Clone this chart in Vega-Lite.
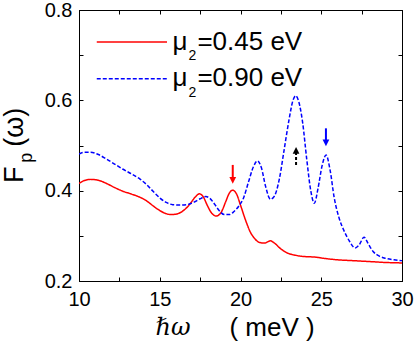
{
  "$schema": "https://vega.github.io/schema/vega-lite/v6.json",
  "width": 323,
  "height": 271,
  "autosize": {"type": "none"},
  "padding": {"left": 79, "top": 10, "right": 13, "bottom": 65},
  "background": "white",
  "config": {
    "view": {"stroke": "black", "strokeWidth": 1},
    "axis": {
      "grid": false,
      "domainColor": "black",
      "tickColor": "black",
      "labelColor": "black",
      "titleColor": "black",
      "labelFont": "Liberation Sans",
      "titleFont": "Liberation Sans",
      "labelFontSize": 20,
      "titleFontSize": 26,
      "titleFontWeight": "normal",
      "tickSize": -4,
      "labelOverlap": false,
      "labelFlush": false
    }
  },
  "datasets": {
    "curves": [
      {"x": 10.0, "y": 0.416, "s": "0.45"}, {"x": 10.3, "y": 0.422, "s": "0.45"}, {"x": 10.7, "y": 0.425, "s": "0.45"},
      {"x": 11.2, "y": 0.423, "s": "0.45"}, {"x": 11.7, "y": 0.416, "s": "0.45"}, {"x": 12.2, "y": 0.407, "s": "0.45"},
      {"x": 12.7, "y": 0.399, "s": "0.45"}, {"x": 13.2, "y": 0.393, "s": "0.45"}, {"x": 13.8, "y": 0.385, "s": "0.45"},
      {"x": 14.2, "y": 0.377, "s": "0.45"}, {"x": 14.6, "y": 0.366, "s": "0.45"}, {"x": 15.0, "y": 0.356, "s": "0.45"},
      {"x": 15.4, "y": 0.349, "s": "0.45"}, {"x": 15.7, "y": 0.347, "s": "0.45"}, {"x": 16.0, "y": 0.348, "s": "0.45"},
      {"x": 16.3, "y": 0.352, "s": "0.45"}, {"x": 16.6, "y": 0.36, "s": "0.45"}, {"x": 16.9, "y": 0.372, "s": "0.45"},
      {"x": 17.2, "y": 0.386, "s": "0.45"}, {"x": 17.45, "y": 0.393, "s": "0.45"}, {"x": 17.7, "y": 0.386, "s": "0.45"},
      {"x": 17.95, "y": 0.367, "s": "0.45"}, {"x": 18.2, "y": 0.351, "s": "0.45"}, {"x": 18.5, "y": 0.344, "s": "0.45"},
      {"x": 18.8, "y": 0.352, "s": "0.45"}, {"x": 19.1, "y": 0.377, "s": "0.45"}, {"x": 19.3, "y": 0.394, "s": "0.45"},
      {"x": 19.52, "y": 0.401, "s": "0.45"}, {"x": 19.75, "y": 0.393, "s": "0.45"}, {"x": 20.0, "y": 0.368, "s": "0.45"},
      {"x": 20.3, "y": 0.336, "s": "0.45"}, {"x": 20.6, "y": 0.309, "s": "0.45"}, {"x": 20.9, "y": 0.293, "s": "0.45"},
      {"x": 21.2, "y": 0.285, "s": "0.45"}, {"x": 21.5, "y": 0.284, "s": "0.45"}, {"x": 21.85, "y": 0.289, "s": "0.45"},
      {"x": 22.1, "y": 0.284, "s": "0.45"}, {"x": 22.5, "y": 0.271, "s": "0.45"}, {"x": 22.9, "y": 0.262, "s": "0.45"},
      {"x": 23.4, "y": 0.257, "s": "0.45"}, {"x": 24.0, "y": 0.254, "s": "0.45"}, {"x": 24.6, "y": 0.253, "s": "0.45"},
      {"x": 25.2, "y": 0.25, "s": "0.45"}, {"x": 26.0, "y": 0.247, "s": "0.45"}, {"x": 27.0, "y": 0.245, "s": "0.45"},
      {"x": 28.0, "y": 0.243, "s": "0.45"}, {"x": 29.0, "y": 0.241, "s": "0.45"}, {"x": 30.0, "y": 0.24, "s": "0.45"},

      {"x": 10.0, "y": 0.481, "s": "0.90"}, {"x": 10.3, "y": 0.485, "s": "0.90"}, {"x": 10.7, "y": 0.485, "s": "0.90"},
      {"x": 11.2, "y": 0.48, "s": "0.90"}, {"x": 11.7, "y": 0.47, "s": "0.90"}, {"x": 12.2, "y": 0.459, "s": "0.90"},
      {"x": 12.7, "y": 0.448, "s": "0.90"}, {"x": 13.2, "y": 0.438, "s": "0.90"}, {"x": 13.8, "y": 0.425, "s": "0.90"},
      {"x": 14.2, "y": 0.413, "s": "0.90"}, {"x": 14.6, "y": 0.398, "s": "0.90"}, {"x": 15.0, "y": 0.384, "s": "0.90"},
      {"x": 15.4, "y": 0.374, "s": "0.90"}, {"x": 15.8, "y": 0.369, "s": "0.90"}, {"x": 16.3, "y": 0.368, "s": "0.90"},
      {"x": 16.8, "y": 0.37, "s": "0.90"}, {"x": 17.2, "y": 0.376, "s": "0.90"}, {"x": 17.5, "y": 0.382, "s": "0.90"},
      {"x": 17.85, "y": 0.387, "s": "0.90"}, {"x": 18.1, "y": 0.383, "s": "0.90"}, {"x": 18.4, "y": 0.37, "s": "0.90"},
      {"x": 18.7, "y": 0.355, "s": "0.90"}, {"x": 19.0, "y": 0.347, "s": "0.90"}, {"x": 19.3, "y": 0.347, "s": "0.90"},
      {"x": 19.6, "y": 0.354, "s": "0.90"}, {"x": 19.9, "y": 0.366, "s": "0.90"}, {"x": 20.2, "y": 0.385, "s": "0.90"},
      {"x": 20.5, "y": 0.42, "s": "0.90"}, {"x": 20.8, "y": 0.453, "s": "0.90"}, {"x": 21.05, "y": 0.466, "s": "0.90"},
      {"x": 21.3, "y": 0.45, "s": "0.90"}, {"x": 21.55, "y": 0.41, "s": "0.90"}, {"x": 21.85, "y": 0.381, "s": "0.90"},
      {"x": 22.1, "y": 0.388, "s": "0.90"}, {"x": 22.4, "y": 0.425, "s": "0.90"}, {"x": 22.7, "y": 0.49, "s": "0.90"},
      {"x": 23.0, "y": 0.556, "s": "0.90"}, {"x": 23.25, "y": 0.6, "s": "0.90"}, {"x": 23.42, "y": 0.61, "s": "0.90"},
      {"x": 23.6, "y": 0.598, "s": "0.90"}, {"x": 23.85, "y": 0.55, "s": "0.90"}, {"x": 24.1, "y": 0.47, "s": "0.90"},
      {"x": 24.35, "y": 0.4, "s": "0.90"}, {"x": 24.57, "y": 0.372, "s": "0.90"}, {"x": 24.8, "y": 0.405, "s": "0.90"},
      {"x": 25.05, "y": 0.455, "s": "0.90"}, {"x": 25.3, "y": 0.479, "s": "0.90"}, {"x": 25.55, "y": 0.445, "s": "0.90"},
      {"x": 25.8, "y": 0.385, "s": "0.90"}, {"x": 26.1, "y": 0.34, "s": "0.90"}, {"x": 26.4, "y": 0.312, "s": "0.90"},
      {"x": 26.75, "y": 0.288, "s": "0.90"}, {"x": 27.1, "y": 0.273, "s": "0.90"}, {"x": 27.35, "y": 0.28, "s": "0.90"},
      {"x": 27.65, "y": 0.297, "s": "0.90"}, {"x": 27.9, "y": 0.283, "s": "0.90"}, {"x": 28.2, "y": 0.266, "s": "0.90"},
      {"x": 28.6, "y": 0.255, "s": "0.90"}, {"x": 29.0, "y": 0.25, "s": "0.90"}, {"x": 29.5, "y": 0.247, "s": "0.90"},
      {"x": 30.0, "y": 0.245, "s": "0.90"}
    ],
    "shafts": [
      {"x": 19.52, "y": 0.457, "y2": 0.425, "s": "0.45"},
      {"x": 25.29, "y": 0.538, "y2": 0.507, "s": "0.90"}
    ],
    "dashedShafts": [
      {"x": 23.44, "y": 0.457, "y2": 0.488, "s": "marker"}
    ],
    "heads": [
      {"x": 19.52, "y": 0.4226, "dir": "down", "s": "0.45"},
      {"x": 23.44, "y": 0.4894, "dir": "up", "s": "marker"},
      {"x": 25.29, "y": 0.5056, "dir": "down", "s": "0.90"}
    ],
    "legendLines": [
      {"x": 11.1, "x2": 15.45, "y": 0.729, "s": "0.45"},
      {"x": 11.1, "x2": 15.45, "y": 0.648, "s": "0.90"}
    ],
    "legendBig": [
      {"x": 15.79, "y": 0.711, "t": "μ"},
      {"x": 17.33, "y": 0.711, "t": "=0.45 eV"},
      {"x": 15.79, "y": 0.631, "t": "μ"},
      {"x": 17.33, "y": 0.631, "t": "=0.90 eV"}
    ],
    "legendSub": [
      {"x": 16.78, "y": 0.689, "t": "2"},
      {"x": 16.78, "y": 0.608, "t": "2"}
    ],
    "ytitleBig": [
      {"x": 6.55, "y": 0.417, "t": "F"},
      {"x": 6.55, "y": 0.497, "t": "(ω)"}
    ],
    "ytitleSub": [
      {"x": 7.12, "y": 0.462, "t": "p"}
    ],
    "xlabel": [
      {"x": 15.82, "y": 0.08, "t": "ℏω"}
    ]
  },
  "resolve": {"axis": {"x": "independent", "y": "independent"}},
  "layer": [
    {
      "data": {"name": "curves"},
      "mark": {"type": "line", "interpolate": "monotone", "strokeWidth": 1.5, "clip": true},
      "encoding": {
        "x": {"field": "x", "type": "quantitative",
              "scale": {"domain": [10, 30], "nice": false, "zero": false},
              "axis": {"orient": "bottom", "values": [10, 12.5, 15, 17.5, 20, 22.5, 25, 27.5, 30],
                       "labelExpr": "datum.value % 5 === 0 ? format(datum.value, 'd') : ''",
                       "labelPadding": 12, "title": "( meV )",
                       "titleX": 192.5, "titleY": 54, "titleBaseline": "alphabetic", "titleAlign": "center"}},
        "y": {"field": "y", "type": "quantitative",
              "scale": {"domain": [0.2, 0.8], "nice": false, "zero": false},
              "axis": {"orient": "left", "values": [0.2, 0.3, 0.4, 0.5, 0.6, 0.7, 0.8],
                       "labelExpr": "round(datum.value * 10) % 2 === 0 ? format(datum.value, '.1f') : ''",
                       "labelPadding": 11, "title": null}},
        "color": {"field": "s", "type": "nominal", "legend": null,
                  "scale": {"domain": ["0.45", "0.90", "marker"], "range": ["#ff0000", "#0000ff", "#000000"]}},
        "strokeDash": {"field": "s", "type": "nominal", "legend": null,
                       "scale": {"domain": ["0.45", "0.90"], "range": [[1, 0], [4, 2]]}}
      }
    },
    {
      "data": {"name": "shafts"},
      "mark": {"type": "rule", "strokeWidth": 2},
      "encoding": {
        "x": {"field": "x", "type": "quantitative",
              "axis": {"orient": "top", "values": [10, 12.5, 15, 17.5, 20, 22.5, 25, 27.5, 30],
                       "labels": false, "title": null}},
        "y": {"field": "y", "type": "quantitative",
              "axis": {"orient": "right", "values": [0.2, 0.3, 0.4, 0.5, 0.6, 0.7, 0.8],
                       "labels": false, "title": null}},
        "y2": {"field": "y2"},
        "color": {"field": "s", "type": "nominal", "legend": null}
      }
    },
    {
      "data": {"name": "dashedShafts"},
      "mark": {"type": "rule", "strokeWidth": 2, "strokeDash": [3, 2]},
      "encoding": {
        "x": {"field": "x", "type": "quantitative", "axis": null},
        "y": {"field": "y", "type": "quantitative", "axis": null},
        "y2": {"field": "y2"},
        "color": {"field": "s", "type": "nominal", "legend": null}
      }
    },
    {
      "data": {"name": "heads"},
      "mark": {"type": "point", "filled": true, "size": 45, "opacity": 1},
      "encoding": {
        "x": {"field": "x", "type": "quantitative", "axis": null},
        "y": {"field": "y", "type": "quantitative", "axis": null},
        "shape": {"field": "dir", "type": "nominal", "legend": null,
                  "scale": {"domain": ["down", "up"], "range": ["M-1,-1L1,-1L0,1Z", "M-1,1L1,1L0,-1Z"]}},
        "color": {"field": "s", "type": "nominal", "legend": null}
      }
    },
    {
      "data": {"name": "legendLines"},
      "mark": {"type": "rule", "strokeWidth": 1.5},
      "encoding": {
        "x": {"field": "x", "type": "quantitative", "axis": null},
        "x2": {"field": "x2"},
        "y": {"field": "y", "type": "quantitative", "axis": null},
        "color": {"field": "s", "type": "nominal", "legend": null},
        "strokeDash": {"field": "s", "type": "nominal", "legend": null}
      }
    },
    {
      "data": {"name": "legendBig"},
      "mark": {"type": "text", "align": "left", "baseline": "alphabetic", "font": "Liberation Sans", "fontSize": 26, "color": "black"},
      "encoding": {
        "x": {"field": "x", "type": "quantitative", "axis": null},
        "y": {"field": "y", "type": "quantitative", "axis": null},
        "text": {"field": "t"}
      }
    },
    {
      "data": {"name": "legendSub"},
      "mark": {"type": "text", "align": "left", "baseline": "alphabetic", "font": "Liberation Sans", "fontSize": 14, "color": "black"},
      "encoding": {
        "x": {"field": "x", "type": "quantitative", "axis": null},
        "y": {"field": "y", "type": "quantitative", "axis": null},
        "text": {"field": "t"}
      }
    },
    {
      "data": {"name": "ytitleBig"},
      "mark": {"type": "text", "align": "left", "baseline": "alphabetic", "angle": 270, "font": "Liberation Sans", "fontSize": 27, "color": "black", "clip": false},
      "encoding": {
        "x": {"field": "x", "type": "quantitative", "axis": null},
        "y": {"field": "y", "type": "quantitative", "axis": null},
        "text": {"field": "t"}
      }
    },
    {
      "data": {"name": "ytitleSub"},
      "mark": {"type": "text", "align": "left", "baseline": "alphabetic", "angle": 270, "font": "Liberation Sans", "fontSize": 18, "color": "black", "clip": false},
      "encoding": {
        "x": {"field": "x", "type": "quantitative", "axis": null},
        "y": {"field": "y", "type": "quantitative", "axis": null},
        "text": {"field": "t"}
      }
    },
    {
      "data": {"name": "xlabel"},
      "mark": {"type": "text", "align": "center", "baseline": "alphabetic", "font": "DejaVu Serif", "fontStyle": "italic", "fontSize": 24, "color": "black", "clip": false},
      "encoding": {
        "x": {"field": "x", "type": "quantitative", "axis": null},
        "y": {"field": "y", "type": "quantitative", "axis": null},
        "text": {"field": "t"}
      }
    }
  ]
}
